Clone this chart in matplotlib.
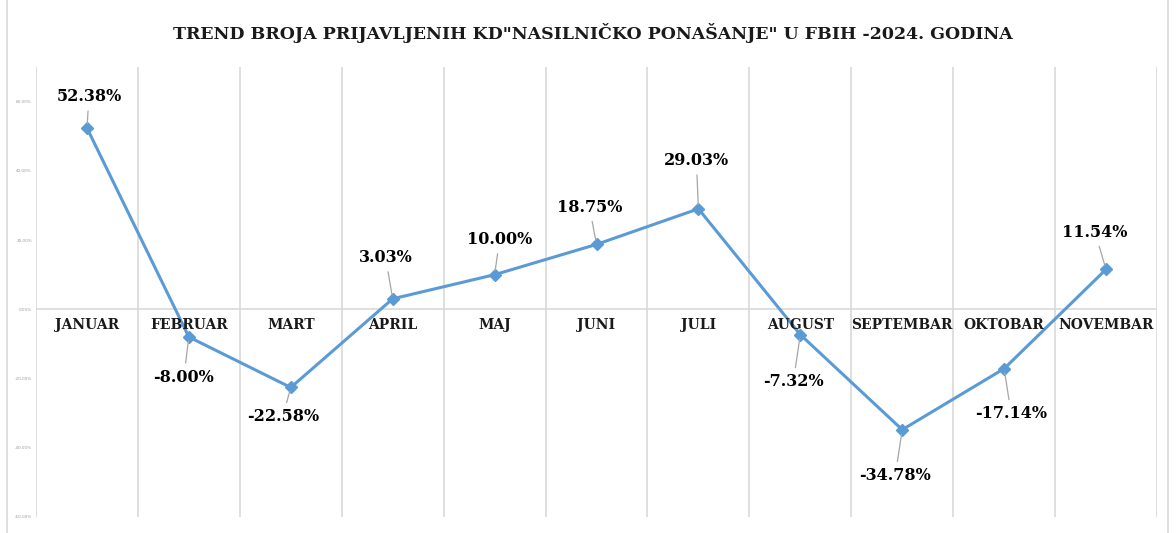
import matplotlib
matplotlib.use("Agg")
import matplotlib.pyplot as plt
from matplotlib.patches import Rectangle

months = ["JANUAR", "FEBRUAR", "MART", "APRIL", "MAJ", "JUNI", "JULI",
          "AUGUST", "SEPTEMBAR", "OKTOBAR", "NOVEMBAR"]
values = [52.38, -8.00, -22.58, 3.03, 10.00, 18.75, 29.03, -7.32, -34.78, -17.14, 11.54]
label_offsets_px = [(2, -31), (-5, 40), (-8, 29), (-7, -41), (5, -35), (-7, -37),
                    (-2, -48), (-7, 47), (-7, 46), (7, 45), (-11, -37)]
yticks = [-60, -40, -20, 0, 20, 40, 60]
title = 'TREND BROJA PRIJAVLJENIH KD"NASILNIČKO PONAŠANJE" U FBIH -2024. GODINA'

W, H, DPI = 1176, 533, 100
fig = plt.figure(figsize=(W / DPI, H / DPI), dpi=DPI)
fig.patch.set_facecolor("white")

# outer chart border
fig.patches.append(Rectangle((7 / W, -0.01), (1168 - 7) / W, 1.02, transform=fig.transFigure,
                             fill=False, edgecolor="#d9d9d9", lw=1.2))

ax = fig.add_axes([36 / W, 1 - 517 / H, (1157 - 36) / W, (517 - 67) / H])
n = len(months)
x = list(range(n))
ax.set_xlim(-0.5, n - 0.5)
ax.set_ylim(-60, 70)

for s in ax.spines.values():
    s.set_visible(False)

# vertical category gridlines
for b in range(n + 1):
    ax.axvline(b - 0.5, color="#d9d9d9", lw=1.2, zorder=0)
ax.axhline(0, color="#d9d9d9", lw=1.2, zorder=0)

ax.set_xticks([])
ax.set_yticks(yticks)
ax.set_yticklabels([f"{v:.2f}%" for v in yticks], fontsize=3, color="#999999")
ax.tick_params(axis="y", length=0, pad=3)

ax.plot(x, values, color="#5B9BD5", lw=2.2, marker="D", markersize=6.5,
        markerfacecolor="#5B9BD5", markeredgecolor="#5B9BD5", zorder=3)

for xi, m in zip(x, months):
    ax.text(xi, -4.5, m, ha="center", va="center", fontsize=10, fontweight="bold",
            family="DejaVu Serif", color="#1a1a1a")

for xi, v, (dx, dy) in zip(x, values, label_offsets_px):
    ax.annotate(f"{v:.2f}%", xy=(xi, v), xytext=(dx * 0.72, -dy * 0.72),
                textcoords="offset points", ha="center", va="center",
                fontsize=11.5, fontweight="bold", family="DejaVu Serif", color="black",
                arrowprops=dict(arrowstyle="-", color="#a6a6a6", lw=0.9,
                                shrinkA=2, shrinkB=3), zorder=4)

fig.text(593 / W, 1 - 33 / H, title, ha="center", va="center", fontsize=12.5,
         fontweight="bold", family="DejaVu Serif", color="#1a1a1a")

fig.savefig("out.png", dpi=DPI, facecolor="white")
